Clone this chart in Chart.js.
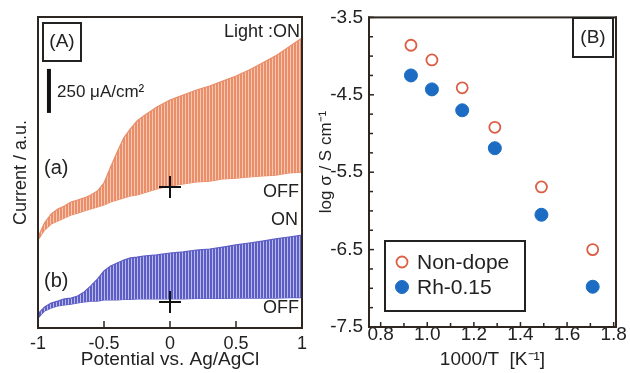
<!DOCTYPE html>
<html>
<head>
<meta charset="utf-8">
<script src="https://cdn.jsdelivr.net/npm/chart.js@4.4.1/dist/chart.umd.min.js"></script>
<style>
  body { margin: 0; background: #fff; }
  #wrap { position: relative; width: 630px; height: 373px; }
  canvas { position: absolute; top: 0; }
  #chartA { left: 0; }
  #chartB { left: 315px; }
</style>
</head>
<body>
<div id="wrap">
  <canvas id="chartA" width="315" height="373" style="width:315px;height:373px"></canvas>
  <canvas id="chartB" width="315" height="373" style="width:315px;height:373px"></canvas>
</div>
<script>
// ---- panel (A): chopped-light voltammetry, ON / OFF envelopes ----
const potential = [-1, -0.95, -0.9, -0.85, -0.8, -0.75, -0.7, -0.65, -0.6, -0.55, -0.5, -0.45, -0.4, -0.35,
  -0.3, -0.25, -0.2, -0.1, 0, 0.1, 0.2, 0.3, 0.4, 0.5, 0.6, 0.7, 0.8, 0.9, 1];
// current in uA/cm2, arbitrary offset
const onA  = [517, 597, 648, 676, 693, 716, 727, 739, 756, 778, 824, 915, 1000, 1080, 1131, 1176, 1205,
  1256, 1295, 1324, 1352, 1375, 1403, 1432, 1466, 1506, 1546, 1597, 1648];
const offA = [500, 557, 591, 608, 625, 642, 653, 665, 676, 688, 699, 716, 727, 739, 750, 756, 767,
  790, 807, 818, 830, 835, 847, 852, 858, 864, 869, 881, 886];
const onB  = [80, 119, 142, 153, 165, 170, 182, 205, 239, 278, 324, 352, 369, 386, 398, 403, 409,
  415, 426, 432, 443, 449, 460, 472, 483, 494, 506, 517, 528];
const offB = [57, 97, 114, 125, 131, 136, 142, 148, 153, 153, 159, 159, 159, 162, 162, 165, 165,
  165, 165, 165, 168, 168, 168, 170, 170, 170, 170, 173, 173];
const zeroMarkE = [0, 0];
const zeroMarkI = [801, 148];
const scaleBarE = -0.917;
const scaleBarI = [1222, 1472]; // 250 uA/cm2
const xTicksA = [-1, -0.5, 0, 0.5, 1];

// ---- panel (B): conductivity ----
const invT = [0.93, 1.02, 1.15, 1.29, 1.49, 1.71];
const logSigmaNonDope = [-3.86, -4.05, -4.41, -4.92, -5.69, -6.50];
const logSigmaRh = [-4.25, -4.43, -4.70, -5.19, -6.05, -6.98];
const seriesNames = ['Non-dope', 'Rh-0.15'];

const FONT = '"Liberation Sans", Arial, Helvetica, sans-serif';
const INK = '#222';
const FRAME = '#2d2621';
Chart.defaults.font.family = FONT;
Chart.defaults.color = INK;

// vertical stripes to mimic the chopped (on/off) trace
function stripes(fg, bg) {
  const c = document.createElement('canvas');
  c.width = 3; c.height = 1;
  const g = c.getContext('2d');
  g.fillStyle = bg; g.fillRect(0, 0, 3, 1);
  g.fillStyle = fg; g.fillRect(0, 0, 2, 1);
  return g.createPattern(c, 'repeat');
}

const pts = (xs, ys) => xs.map((x, i) => ({x: x, y: ys[i]}));

// box frame, inward ticks, free texts, small boxes, legend
function decor(cfg) {
  return {
    id: 'decor',
    afterDraw(chart) {
      const ctx = chart.ctx;
      const a = chart.chartArea;
      ctx.save();
      ctx.fillStyle = FRAME;
      (cfg.ticks || []).forEach(t => {
        const sc = chart.scales[t.axis];
        sc.ticks.forEach(tk => {
          const len = t.isMajor(tk.value) ? t.major : t.minor;
          const p = sc.getPixelForValue(tk.value);
          if (t.axis === 'x') ctx.fillRect(p - 0.75, a.bottom - len, 1.5, len);
          else ctx.fillRect(a.left, p - 0.75, len, 1.5);
        });
      });
      ctx.fillRect(a.left - 1, a.top - 1, a.right - a.left + 2, 2);
      ctx.fillRect(a.left - 1, a.bottom - 1, a.right - a.left + 2, 2);
      ctx.fillRect(a.left - 1, a.top - 1, 2, a.bottom - a.top + 2);
      ctx.fillRect(a.right - 1, a.top - 1, 2, a.bottom - a.top + 2);

      ctx.fillStyle = INK;
      ctx.strokeStyle = INK;
      ctx.lineWidth = 2;
      (cfg.boxes || []).forEach(b => ctx.strokeRect(b[0], b[1], b[2], b[3]));
      ctx.textBaseline = 'middle';
      (cfg.texts || []).forEach(t => {
        ctx.font = t.size + 'px ' + FONT;
        ctx.textAlign = t.align || 'left';
        ctx.save();
        ctx.translate(t.x, t.y);
        if (t.rot) ctx.rotate(t.rot);
        ctx.fillText(t.text, 0, 0);
        ctx.restore();
      });
      if (cfg.legend) {
        const L = cfg.legend;
        ctx.strokeRect(L.box[0], L.box[1], L.box[2], L.box[3]);
        ctx.font = L.size + 'px ' + FONT;
        ctx.textAlign = 'left';
        chart.data.datasets.forEach((ds, i) => {
          const y = L.y0 + i * L.dy;
          ctx.beginPath();
          ctx.arc(L.mx, y, ds.pointRadius, 0, Math.PI * 2);
          ctx.fillStyle = ds.pointBackgroundColor;
          ctx.fill();
          ctx.lineWidth = ds.pointBorderWidth;
          ctx.strokeStyle = ds.pointBorderColor;
          ctx.stroke();
          ctx.fillStyle = INK;
          ctx.fillText(ds.label, L.tx, y + 1);
        });
      }
      ctx.restore();
    }
  };
}

const ORANGE = '#e98e69', BLUE = '#5d5dc6';

new Chart(document.getElementById('chartA'), {
  type: 'scatter',
  data: {
    datasets: [
      {data: pts(zeroMarkE, zeroMarkI), pointStyle: 'cross', pointRadius: 11, pointBorderWidth: 2,
       pointBorderColor: '#111', showLine: false, order: 0},
      {data: [{x: scaleBarE, y: scaleBarI[0]}, {x: scaleBarE, y: scaleBarI[1]}], showLine: true,
       pointRadius: 0, borderColor: '#111', borderWidth: 4, borderCapStyle: 'butt', order: 0},
      {data: pts(potential, onA), showLine: true, pointRadius: 0, borderColor: ORANGE, borderWidth: 1.2,
       fill: '+1', backgroundColor: stripes(ORANGE, '#f6c7b3'), order: 1},
      {data: pts(potential, offA), showLine: true, pointRadius: 0, borderColor: ORANGE, borderWidth: 1.2, order: 1},
      {data: pts(potential, onB), showLine: true, pointRadius: 0, borderColor: BLUE, borderWidth: 1.2,
       fill: '+1', backgroundColor: stripes(BLUE, '#b9b9ea'), order: 1},
      {data: pts(potential, offB), showLine: true, pointRadius: 0, borderColor: BLUE, borderWidth: 1.2, order: 1}
    ]
  },
  options: {
    responsive: false, animation: false, events: [],
    layout: {padding: {left: 0, top: 17, right: 13, bottom: 0}},
    plugins: {legend: {display: false}, tooltip: {enabled: false}},
    scales: {
      x: {
        type: 'linear', min: -1, max: 1,
        afterBuildTicks: s => { s.ticks = xTicksA.map(v => ({value: v})); },
        ticks: {font: {size: 18}, color: INK, padding: 5, maxRotation: 0, autoSkip: false, callback: v => String(v)},
        grid: {display: false, drawTicks: false}, border: {display: false},
        title: {display: true, text: 'Potential vs. Ag/AgCl', font: {size: 19}, color: INK, padding: {top: 0, bottom: 2}},
        afterFit: s => { s.height = 45; }
      },
      y: {
        min: 0, max: 1767,
        ticks: {display: false}, grid: {display: false, drawTicks: false}, border: {display: false},
        title: {display: true, text: 'Current / a.u.', font: {size: 18}, color: INK, padding: {top: 10, bottom: 0}},
        afterFit: s => { s.width = 38; }
      }
    }
  },
  plugins: [decor({
    ticks: [{axis: 'x', isMajor: () => true, major: 7, minor: 7}],
    boxes: [[43, 23, 38, 38]],
    texts: [
      {text: '(A)', x: 62, y: 42, size: 19, align: 'center'},
      {text: 'Light :ON', x: 300, y: 32, size: 18, align: 'right'},
      {text: '250 μA/cm²', x: 57, y: 92, size: 17},
      {text: '(a)', x: 44, y: 168, size: 20},
      {text: '(b)', x: 44, y: 281, size: 20},
      {text: 'OFF', x: 299, y: 192, size: 18, align: 'right'},
      {text: 'ON', x: 298, y: 220, size: 18, align: 'right'},
      {text: 'OFF', x: 299, y: 308, size: 18, align: 'right'}
    ]
  })]
});

const isLabelX = v => Math.abs(Math.round(v * 10) % 2) === 0;
const isLabelY = v => Math.abs(Math.round(v * 4) % 4) === 2;

new Chart(document.getElementById('chartB'), {
  type: 'scatter',
  data: {
    datasets: [
      {label: seriesNames[0], data: pts(invT, logSigmaNonDope), pointRadius: 5.5, pointBorderWidth: 1.8,
       pointBorderColor: '#dc5e44', pointBackgroundColor: '#ffffff'},
      {label: seriesNames[1], data: pts(invT, logSigmaRh), pointRadius: 6.5, pointBorderWidth: 1,
       pointBorderColor: '#1b6cc2', pointBackgroundColor: '#1b6cc2'}
    ]
  },
  options: {
    responsive: false, animation: false, events: [],
    layout: {padding: {left: 0, top: 15, right: 14, bottom: 0}},
    plugins: {legend: {display: false}, tooltip: {enabled: false}},
    scales: {
      x: {
        type: 'linear', min: 0.75, max: 1.81,
        ticks: {stepSize: 0.1, includeBounds: false, autoSkip: false, maxRotation: 0, font: {size: 19}, color: INK, padding: -4,
                callback: v => isLabelX(v) ? v.toFixed(1) : ''},
        grid: {display: false, drawTicks: false}, border: {display: false},
        title: {display: true, text: '1000/T  [K⁻¹]', font: {size: 19}, color: INK, padding: {top: 0, bottom: 2}},
        afterFit: s => { s.height = 46; }
      },
      y: {
        min: -7.5, max: -3.5,
        ticks: {stepSize: 0.25, includeBounds: false, autoSkip: false, font: {size: 19}, color: INK, padding: 6,
                callback: v => isLabelY(v) ? v.toFixed(1) : ''},
        grid: {display: false, drawTicks: false}, border: {display: false},
        title: {display: false},
        afterFit: s => { s.width = 54; }
      }
    }
  },
  plugins: [decor({
    ticks: [
      {axis: 'x', isMajor: isLabelX, major: 5, minor: 4},
      {axis: 'y', isMajor: isLabelY, major: 5, minor: 4}
    ],
    boxes: [[258, 18, 40, 39]],
    texts: [
      {text: '(B)', x: 278, y: 38, size: 19, align: 'center'},
      {text: 'log σ / S cm⁻¹', x: 11, y: 162, size: 17, align: 'center', rot: -Math.PI / 2}
    ],
    legend: {box: [70, 241, 140, 70], mx: 87, tx: 102, y0: 262, dy: 25, size: 21}
  })]
});
</script>
</body>
</html>
